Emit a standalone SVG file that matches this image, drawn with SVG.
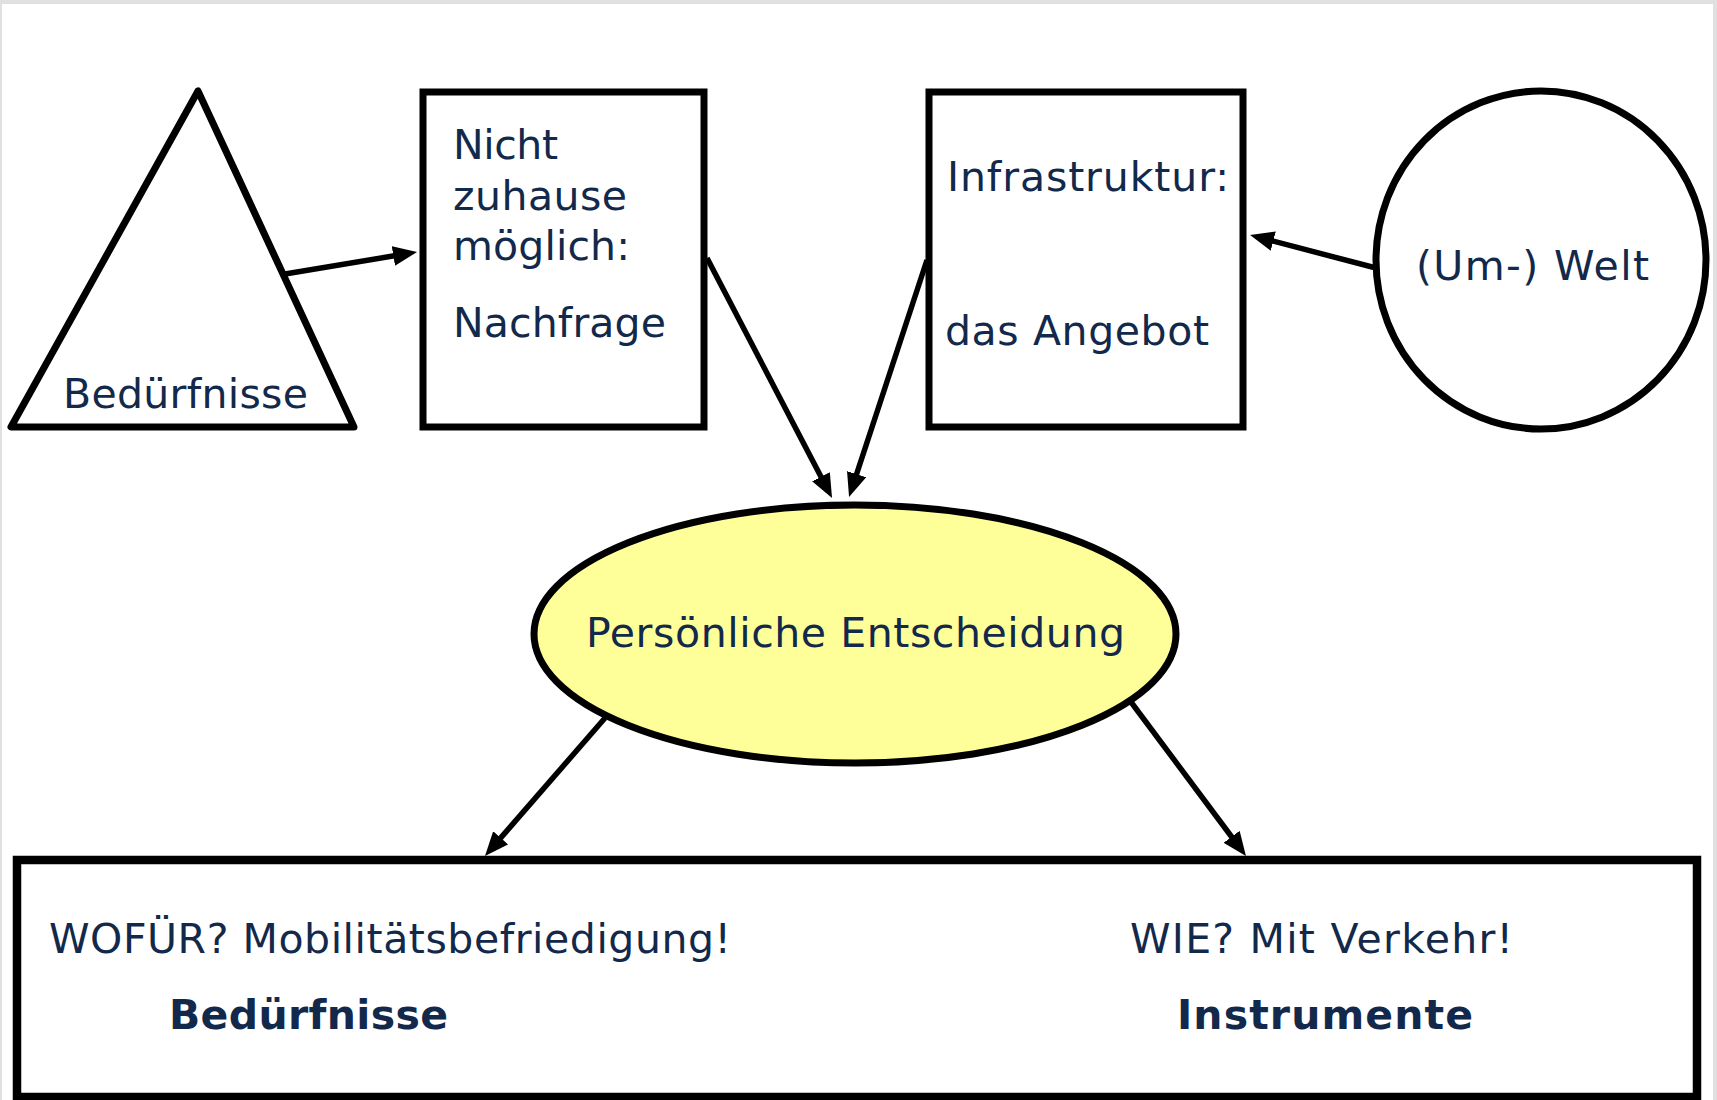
<svg xmlns="http://www.w3.org/2000/svg" width="1717" height="1100" viewBox="0 0 1717 1100">
<style>
.shape{fill:#ffffff;stroke:#000000;stroke-width:7}
.txt{font-family:"DejaVu Sans","Verdana",sans-serif;font-size:41px;fill:#13294b}
.bold{font-weight:bold}
.conn line{stroke:#000000;stroke-width:5.5;fill:none}
</style>
<defs>
<marker id="ah" markerUnits="userSpaceOnUse" markerWidth="26" markerHeight="22" refX="4" refY="10" orient="auto">
<path d="M0,0 L24,10 L0,20 Z" fill="#000000"/>
</marker>
</defs>
<rect x="0" y="0" width="1717" height="1100" fill="#ffffff"/>
<rect x="0" y="0" width="1717" height="4" fill="#e0e0e0"/>
<rect x="0" y="0" width="2" height="1100" fill="#e0e0e0"/>
<rect x="1713" y="0" width="4" height="1100" fill="#e0e0e0"/>

<g id="node-beduerfnisse">
<polygon class="shape" points="198,91 11,427 354,427" stroke-linejoin="round"/>
<text class="txt" x="63" y="408" textLength="245">Bedürfnisse</text>
</g>

<g id="node-nachfrage">
<rect class="shape" x="423" y="92" width="281" height="335"/>
<text class="txt" x="453" y="159" textLength="105">Nicht</text>
<text class="txt" x="453" y="210" textLength="174">zuhause</text>
<text class="txt" x="453" y="260" textLength="177">möglich:</text>
<text class="txt" x="453" y="337" textLength="213">Nachfrage</text>
</g>

<g id="node-angebot">
<rect class="shape" x="929" y="92" width="314" height="335"/>
<text class="txt" x="947" y="191" textLength="282">Infrastruktur:</text>
<text class="txt" x="945" y="345" textLength="264">das Angebot</text>
</g>

<g id="node-umwelt">
<ellipse class="shape" cx="1541" cy="260" rx="165" ry="169"/>
<text class="txt" x="1416" y="280" textLength="233">(Um-) Welt</text>
</g>

<g id="node-entscheidung">
<ellipse class="shape" cx="855" cy="634" rx="321" ry="129" style="fill:#ffff99"/>
<text class="txt" x="586" y="647" textLength="539">Persönliche Entscheidung</text>
</g>

<g id="node-ergebnis">
<rect class="shape" x="17" y="860" width="1680" height="237" style="stroke-width:8.5"/>
<text class="txt" x="49" y="953" textLength="682">WOFÜR? Mobilitätsbefriedigung!</text>
<text class="txt bold" x="169" y="1029" textLength="279">Bedürfnisse</text>
<text class="txt" x="1130" y="953" textLength="383">WIE? Mit Verkehr!</text>
<text class="txt bold" x="1177" y="1029" textLength="296">Instrumente</text>
</g>

<g id="connectors" class="conn">
<line x1="285" y1="274" x2="397.3" y2="255.3" marker-end="url(#ah)"/>
<line x1="707" y1="258" x2="822.8" y2="480.3" marker-end="url(#ah)"/>
<line x1="927" y1="260" x2="855.3" y2="478" marker-end="url(#ah)"/>
<line x1="1376" y1="268" x2="1269.4" y2="240.1" marker-end="url(#ah)"/>
<line x1="605" y1="718" x2="498.1" y2="840.9" marker-end="url(#ah)"/>
<line x1="1131" y1="702" x2="1234" y2="840" marker-end="url(#ah)"/>
</g>
</svg>
